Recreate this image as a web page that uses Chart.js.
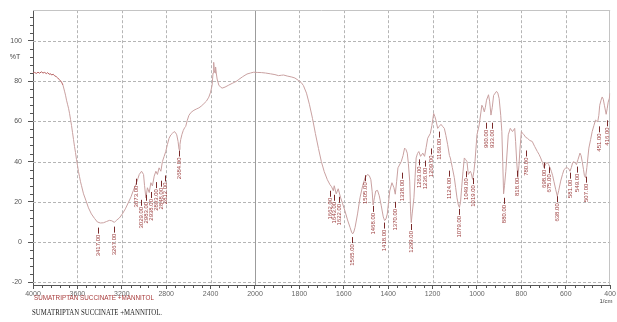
<!DOCTYPE html>
<html>
<head>
<meta charset="utf-8">
<script src="https://cdn.jsdelivr.net/npm/chart.js@4.4.1/dist/chart.umd.min.js"></script>
<style>
html,body{margin:0;padding:0;background:#fff;}
#wrap{width:617px;height:322px;position:relative;}
</style>
</head>
<body>
<div id="wrap"><canvas id="c" width="617" height="322"></canvas></div>
<script>
// ---- data ----
const wavenumbers = [
4000,3985,3970,3955,3940,3925,3910,3895,3880,3868,3855,3840,3832,3818,3805,3790,3778,3761,3750,3743,
3730,3716,3707,3698,3689,3680,3671,3662,3653,3644,3635,3626,3617,3608,3599,3590,3581,3572,3563,3545,
3522,3500,3474,3446,3420,3393,3366,3339,3312,3290,3267,3249,3222,3195,3168,3142,3117,3097,3073,3055,
3043,3022,3004,2995,2983,2969,2953,2938,2924,2908,2893,2879,2864,2848,2834,2819,2804,2789,2774,2759,
2744,2729,2717,2705,2693,2684,2676,2669,2658,2646,2634,2624,2610,2595,2575,2550,2525,2505,2485,2460,
2438,2416,2400,2386,2378,2372,2366,2360,2355,2349,2341,2326,2310,2296,2270,2236,2200,2170,2146,2110,
2072,2040,2012,1990,1970,1953,1930,1910,1894,1880,1871,1855,1834,1820,1804,1792,1782,1768,1755,1741,
1728,1714,1701,1688,1674,1662,1655,1647,1643,1634,1625,1614,1605,1595,1583,1572,1565,1560,1555,1549,
1538,1527,1515,1504,1493,1485,1478,1472,1468,1462,1456,1448,1440,1431,1422,1416,1410,1404,1398,1393,
1383,1374,1368,1362,1356,1341,1333,1326,1320,1314,1309,1303,1299,1296,1292,1284,1279,1274,1268,1262,
1254,1244,1236,1229,1222,1210,1203,1195,1190,1185,1177,1170,1162,1155,1147,1140,1132,1124,1120,1111,
1102,1096,1090,1084,1079,1074,1069,1063,1057,1051,1045,1039,1030,1025,1020,1014,1009,1000,990,978,
973,967,962,957,948,943,937,931,925,912,906,900,893,888,884,880,876,870,859,850,
840,830,826,821,816,811,806,800,794,788,780,773,762,751,740,728,720,713,705,698,
690,683,677,671,665,659,653,645,638,632,623,615,608,600,593,587,581,575,569,563,
556,552,545,536,531,526,520,516,511,505,496,488,481,473,466,461,456,451,447,441,
436,431,426,418,413,409,404,400
];
const transmittance = [
84.0,84.3,83.8,84.4,83.9,84.6,84.0,84.3,83.7,84.2,83.4,83.6,83.0,83.4,82.6,82.2,81.6,80.6,80.0,79.5,
78.0,75.0,73.0,70.5,68.5,66.5,64.0,61.0,58.0,54.5,51.0,47.5,44.5,41.0,38.0,35.0,32.5,30.0,28.0,24.0,
20.5,17.0,14.0,11.8,10.0,9.5,9.6,10.2,10.8,10.6,9.8,10.8,12.0,14.0,16.5,19.5,22.5,25.5,28.7,31.5,
33.6,35.2,33.6,28.0,22.0,27.0,24.6,29.5,27.9,32.8,35.2,33.6,36.9,35.2,40.0,42.5,45.0,48.5,51.6,53.2,
54.0,54.9,54.5,53.3,50.0,45.9,48.5,51.0,53.5,55.5,56.8,57.5,60.5,63.0,64.5,65.5,66.2,66.7,67.5,68.8,
70.0,72.0,74.5,78.0,84.0,89.3,85.0,84.0,87.0,84.0,81.0,78.0,77.0,76.5,77.0,78.0,79.0,79.8,80.8,82.2,
83.5,84.0,84.4,84.3,84.2,84.0,83.6,83.2,82.7,82.9,83.0,82.5,82.0,81.5,80.3,79.3,77.8,74.0,68.5,61.5,
54.0,46.5,40.0,35.0,31.0,28.5,27.5,25.5,28.0,24.0,26.5,22.0,19.0,15.6,11.0,7.4,5.0,4.1,5.0,7.4,
14.0,22.0,28.0,32.0,33.6,33.0,31.0,25.0,18.5,22.0,25.4,25.7,23.0,18.0,12.5,10.7,11.5,14.0,20.0,25.4,
29.5,27.0,23.8,30.0,36.9,40.0,43.0,46.7,46.0,44.2,39.0,30.3,15.0,9.7,14.0,22.0,32.0,41.8,44.0,45.0,
42.6,44.2,42.6,47.0,51.6,54.0,58.0,63.9,62.5,60.6,56.5,57.5,58.5,57.5,56.5,53.0,48.4,43.0,41.8,37.0,
32.0,27.0,22.0,18.5,17.2,20.0,27.0,35.0,41.8,41.0,40.0,33.6,35.2,34.0,31.2,35.0,40.0,53.3,58.2,68.0,
67.0,64.7,67.0,70.5,73.2,70.0,63.1,67.0,72.9,74.9,74.0,71.3,63.0,55.0,40.0,24.0,28.0,35.2,53.3,56.5,
54.9,56.5,50.0,40.0,32.0,38.0,46.7,54.9,54.0,53.3,52.0,51.6,50.5,50.0,47.5,45.0,43.5,41.8,39.5,37.0,
39.0,39.5,38.5,37.0,35.2,33.0,30.0,26.0,22.8,25.5,30.3,33.5,36.0,36.8,36.9,36.5,35.2,37.0,39.5,40.0,
39.0,38.5,41.0,44.2,43.0,40.0,36.0,33.0,32.0,37.0,46.7,51.0,54.9,58.0,60.6,60.2,59.8,63.0,68.0,70.5,
72.1,71.0,68.0,63.5,66.5,69.5,71.3,74.0
];
const peakWavenumbers = [3417,3267,3073,3029,2983,2938,2893,2848,2812,2684,
1662,1643,1622,1565,1505,1468,1418,1370,1338,1299,1263,1236,1209,1169,1124,1079,1049,1019,
960,933,880,818,780,698,675,638,581,549,507,451,416];
const peakAnchorT = [7.7,8.2,32,21.5,24,25.4,30.3,31,33.6,46,
26,24,23,3,33.7,18.5,10.2,20.5,35,9.5,41.6,41,47,55.4,36,17,35.7,32.3,
59.8,59.8,22.5,36,46,40,37.7,23.3,35,38,33,58,61];
const peakLabels = peakWavenumbers.map(w => w.toFixed(2));
const xTicks = [4000,3600,3200,2800,2400,2000,1800,1600,1400,1200,1000,800,600,400];
const yTicks = [100,80,60,40,20,0,-20];
const sampleName = 'SUMATRIPTAN SUCCINATE +MANNITOL';

// ---- custom IR axis: 400 cm-1 per division above 2000, 200 below ----
class IRScale extends Chart.LinearScale {
  buildTicks() { return xTicks.map(v => ({value: v})); }
  getPixelForValue(value) {
    const u = value >= 2000 ? (4000 - value) / 400 : 5 + (2000 - value) / 200;
    return this.getPixelForDecimal(u / 13);
  }
  getValueForPixel(pixel) {
    const u = this.getDecimalForPixel(pixel) * 13;
    return u <= 5 ? 4000 - 400 * u : 2000 - 200 * (u - 5);
  }
}
IRScale.id = 'irscale';
IRScale.defaults = Chart.LinearScale.defaults;
Chart.register(IRScale);

const decor = {
  id: 'decor',
  beforeDatasetsDraw(chart) {
    const {ctx, chartArea: a, scales: {x, y}} = chart;
    ctx.save();
    ctx.lineWidth = 1;
    ctx.strokeStyle = '#b5b5b5';
    ctx.setLineDash([3, 2]);
    yTicks.forEach(v => {
      const py = Math.round(y.getPixelForValue(v)) + 0.5;
      ctx.beginPath(); ctx.moveTo(a.left, py); ctx.lineTo(a.right, py); ctx.stroke();
    });
    xTicks.forEach(v => {
      if (v === 4000 || v === 400 || v === 2000) return;
      const px = Math.round(x.getPixelForValue(v)) + 0.5;
      ctx.beginPath(); ctx.moveTo(px, a.top); ctx.lineTo(px, a.bottom); ctx.stroke();
    });
    ctx.setLineDash([]);
    ctx.strokeStyle = '#9c9c9c';
    const p2 = Math.round(x.getPixelForValue(2000)) + 0.5;
    ctx.beginPath(); ctx.moveTo(p2, a.top); ctx.lineTo(p2, a.bottom); ctx.stroke();
    ctx.strokeStyle = '#c4c4c4';
    ctx.beginPath();
    ctx.moveTo(a.left, Math.round(a.top) + 0.5); ctx.lineTo(a.right, Math.round(a.top) + 0.5);
    ctx.moveTo(Math.round(a.right) - 0.5, a.top); ctx.lineTo(Math.round(a.right) - 0.5, a.bottom);
    ctx.stroke();
    ctx.restore();
  },
  afterDatasetsDraw(chart) {
    const {ctx, chartArea: a, scales: {x, y}} = chart;
    ctx.save();
    // minor ticks
    ctx.strokeStyle = '#555'; ctx.lineWidth = 1;
    ctx.beginPath();
    for (let v = -20; v <= 114; v += 4) {
      if (v % 20 === 0) continue;
      const py = Math.round(y.getPixelForValue(v)) + 0.5;
      ctx.moveTo(a.left - 3, py); ctx.lineTo(a.left, py);
    }
    for (let w = 4000; w > 2000; w -= 80) {
      if (w % 400 === 0) continue;
      const px = Math.round(x.getPixelForValue(w)) + 0.5;
      ctx.moveTo(px, a.bottom); ctx.lineTo(px, a.bottom + 3);
    }
    for (let w = 2000; w > 400; w -= 40) {
      if (w % 200 === 0) continue;
      const px = Math.round(x.getPixelForValue(w)) + 0.5;
      ctx.moveTo(px, a.bottom); ctx.lineTo(px, a.bottom + 3);
    }
    ctx.stroke();
    // peak labels
    ctx.font = '6px "Liberation Sans", Arial, sans-serif';
    ctx.fillStyle = '#9a3a3a';
    ctx.strokeStyle = '#7a2a2a';
    peakWavenumbers.forEach((w, i) => {
      const px = Math.round(x.getPixelForValue(w)) + 0.5;
      const py = y.getPixelForValue(peakAnchorT[i]);
      ctx.beginPath(); ctx.moveTo(px, py + 1); ctx.lineTo(px, py + 7); ctx.stroke();
      ctx.save();
      ctx.translate(px, py + 8);
      ctx.rotate(-Math.PI / 2);
      ctx.textAlign = 'right'; ctx.textBaseline = 'middle';
      ctx.fillText(peakLabels[i], 0, 0);
      ctx.restore();
    });
    ctx.restore();
  },
  afterDraw(chart) {
    const {ctx, chartArea: a} = chart;
    ctx.save();
    ctx.fillStyle = '#444';
    ctx.font = '7px "Liberation Sans", Arial, sans-serif';
    ctx.textAlign = 'center'; ctx.textBaseline = 'middle';
    ctx.fillText('%T', 15, 57);
    ctx.font = '6px "Liberation Sans", Arial, sans-serif';
    ctx.fillText('1/cm', 606, 301);
    ctx.textAlign = 'left';
    ctx.fillStyle = '#a83a3a';
    ctx.font = '7px "Liberation Sans", Arial, sans-serif';
    ctx.fillText(sampleName, 34, 298.5, 120);
    ctx.fillStyle = '#222';
    ctx.font = '7.5px "Liberation Serif", "Times New Roman", serif';
    ctx.fillText(sampleName + '.', 32, 313, 130);
    ctx.restore();
  }
};

new Chart(document.getElementById('c'), {
  type: 'line',
  data: {
    datasets: [{
      data: wavenumbers.map((w, i) => ({x: w, y: transmittance[i]})),
      borderColor: '#c9a1a1',
      borderWidth: 1,
      pointRadius: 0,
      tension: 0,
      fill: false,
      segment: {
        borderColor: c => c.p0.parsed.x > 3740 ? '#b76262' : '#c9a1a1'
      }
    }]
  },
  options: {
    responsive: false,
    animation: false,
    events: [],
    layout: {padding: {top: 7, right: 4, left: 0, bottom: 0}},
    plugins: {legend: {display: false}, tooltip: {enabled: false}},
    scales: {
      x: {
        type: 'irscale',
        min: 400, max: 4000,
        afterFit: s => { s.height = 37; },
        grid: {display: true, drawOnChartArea: false, drawTicks: true, tickLength: 4, tickColor: '#555'},
        border: {display: true, color: '#555', width: 1},
        ticks: {
          autoSkip: false, maxRotation: 0, minRotation: 0, padding: 1,
          color: '#666', font: {family: 'Liberation Sans', size: 7},
          callback: v => String(v)
        }
      },
      y: {
        type: 'linear',
        min: -21.3, max: 115.2,
        afterFit: s => { s.width = 33; },
        afterBuildTicks: s => { s.ticks = yTicks.map(v => ({value: v})); },
        grid: {display: true, drawOnChartArea: false, drawTicks: true, tickLength: 5, tickColor: '#555'},
        border: {display: true, color: '#555', width: 1},
        ticks: {
          padding: 6, color: '#555', font: {family: 'Liberation Sans', size: 7},
          callback: v => String(v)
        }
      }
    }
  },
  plugins: [decor]
});
</script>
</body>
</html>
